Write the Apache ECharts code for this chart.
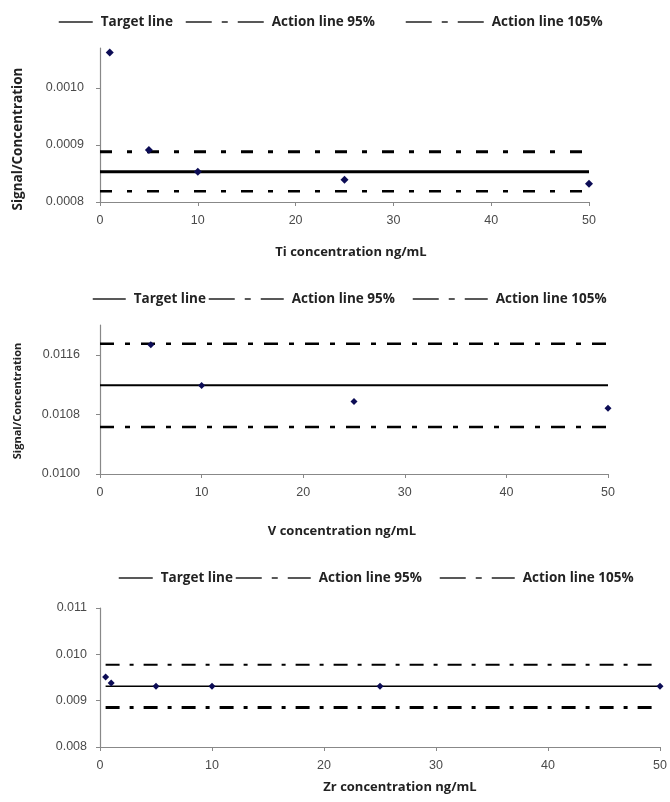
<!DOCTYPE html>
<html>
<head>
<meta charset="utf-8">
<script src="https://cdn.jsdelivr.net/npm/echarts@6/dist/echarts.min.js"></script>
<style>
  html, body { margin: 0; padding: 0; background: #fff; }
  #chart { width: 670px; height: 802px; }
</style>
</head>
<body>
<div id="chart"></div>
<script>
// ---- Data ----
const legendNames = ['Target line', 'Action line 95%', 'Action line 105%'];

const tiConc = [1, 5, 10, 25, 50];
const tiRatio = [0.001062, 0.000891, 0.000853, 0.000839, 0.000832];
const tiLevels = [0.000853, 0.000819, 0.000888]; // target, 95%, 105%
const tiLineX = [0, 50];
const tiTicks = [0.0008, 0.0009, 0.0010];

const vConc = [5, 10, 25, 50];
const vRatio = [0.011734, 0.011187, 0.010972, 0.010883];
const vLevels = [0.01119, 0.01063, 0.01175];
const vLineX = [0, 50];
const vTicks = [0.0100, 0.0108, 0.0116];

const zrConc = [0.5, 1, 5, 10, 25, 50];
const zrRatio = [0.00951, 0.00938, 0.00931, 0.00931, 0.00931, 0.00931];
const zrLevels = [0.00931, 0.00885, 0.009775];
const zrLineX = [0.5, 50];
const zrTicks = [0.008, 0.009, 0.010, 0.011];

const xTitles = ['Ti concentration ng/mL', 'V concentration ng/mL', 'Zr concentration ng/mL'];
const yTitle = 'Signal/Concentration';

// ---- Styling helpers ----
const BOLD = '"Open Sans", "DejaVu Sans", sans-serif';
const AXFONT = '"Liberation Sans", Arial, sans-serif';
const AXCOLOR = '#888888';
const LBLCOLOR = '#4a4a4a';
const MARK = '#0c0c55';

const grids = [
  { left: 100, width: 489, top: 48, height: 154 },
  { left: 100, width: 508, top: 325, height: 149 },
  { left: 100, width: 560, top: 608, height: 139 }
];

function xAxis(i, nameGap, pad) {
  return {
    type: 'value', gridIndex: i, min: 0, max: 50, interval: 10,
    name: xTitles[i], nameLocation: 'middle', nameGap: nameGap,
    nameTextStyle: { fontFamily: BOLD, fontWeight: 'bold', fontSize: 13, color: '#222', padding: pad },
    axisLine: { show: true, onZero: false, lineStyle: { color: AXCOLOR, width: 1.2 } },
    axisTick: { show: true, length: 4, lineStyle: { color: AXCOLOR } },
    axisLabel: { fontFamily: AXFONT, fontSize: 12.5, color: LBLCOLOR, margin: 12 },
    splitLine: { show: false }
  };
}
function yAxis(i, min, max, ticks, digits, margin) {
  return {
    type: 'value', gridIndex: i, min: min, max: max,
    axisLine: { show: true, onZero: false, lineStyle: { color: AXCOLOR, width: 1.2 } },
    axisTick: { show: true, length: 4, lineStyle: { color: AXCOLOR }, customValues: ticks },
    axisLabel: { fontFamily: AXFONT, fontSize: 12.5, color: LBLCOLOR, margin: margin,
      customValues: ticks, formatter: v => v.toFixed(digits) },
    splitLine: { show: false }
  };
}
function hline(i, name, xs, y, width, dash) {
  return {
    type: 'line', name: name, xAxisIndex: i, yAxisIndex: i,
    data: xs.map(x => [x, y]), symbol: 'none', silent: true, z: 2,
    color: '#000',
    lineStyle: { color: '#000', width: width, type: dash || 'solid' }
  };
}
function pts(i, xs, ys, size) {
  return {
    type: 'scatter', name: 'points', xAxisIndex: i, yAxisIndex: i,
    data: xs.map((x, k) => [x, ys[k]]), symbol: 'diamond', symbolSize: size,
    itemStyle: { color: MARK, opacity: 1 }, z: 5
  };
}
function legend(name, left, cy, w, dashed) {
  return {
    data: [name], left: left, top: cy - 8, itemHeight: 4, itemWidth: w,
    selectedMode: false, padding: 0,
    itemStyle: { opacity: 0 },
    lineStyle: { color: '#222', width: 1.5, type: dashed ? [26, 10, 6, 10] : 'solid' },
    textStyle: { fontFamily: BOLD, fontWeight: 'bold', fontSize: 13.5, color: '#222', padding: [0, 0, 0, 3] }
  };
}

const option = {
  animation: false,
  backgroundColor: '#fff',
  grid: grids,
  xAxis: [ xAxis(0, 44, [0, 0, 0, 13]), xAxis(1, 51, [0, 24, 0, 0]), xAxis(2, 34, [0, 0, 0, 40]) ],
  yAxis: [
    yAxis(0, 0.0008, 0.00107, tiTicks, 4, 16),
    yAxis(1, 0.0100, 0.0120, vTicks, 4, 20),
    yAxis(2, 0.008, 0.011, zrTicks, 3, 13)
  ],
  legend: [
    legend(legendNames[0], 58, 23, 34, false),
    legend(legendNames[1], 185, 23, 78, true),
    legend(legendNames[2], 405, 23, 78, true),
    legend(legendNames[0], 92, 300, 33, false),
    legend(legendNames[1], 208, 300, 75, true),
    legend(legendNames[2], 412, 300, 75, true),
    legend(legendNames[0], 118, 579, 34, false),
    legend(legendNames[1], 235, 579, 75, true),
    legend(legendNames[2], 439, 579, 75, true)
  ],
  graphic: [
    { type: 'text', x: 18, y: 139, rotation: Math.PI / 2,
      style: { text: yTitle, align: 'center', verticalAlign: 'middle', font: 'bold 13.5px "Open Sans", sans-serif', fill: '#222' } },
    { type: 'text', x: 18, y: 401, rotation: Math.PI / 2,
      style: { text: yTitle, align: 'center', verticalAlign: 'middle', font: 'bold 11px "Open Sans", sans-serif', fill: '#222' } }
  ],
  series: [
    hline(0, legendNames[0], tiLineX, tiLevels[0], 3),
    hline(0, legendNames[1], tiLineX, tiLevels[1], 2.5, [12, 15, 5, 15]),
    hline(0, legendNames[2], tiLineX, tiLevels[2], 3, [12, 15, 5, 15]),
    pts(0, tiConc, tiRatio, 8),

    hline(1, legendNames[0], vLineX, vLevels[0], 2),
    hline(1, legendNames[1], vLineX, vLevels[1], 2.5, [14, 11, 5, 11]),
    hline(1, legendNames[2], vLineX, vLevels[2], 2.5, [14, 11, 5, 11]),
    pts(1, vConc, vRatio, 7),

    hline(2, legendNames[0], zrLineX, zrLevels[0], 1.5),
    hline(2, legendNames[1], zrLineX, zrLevels[1], 3, [14, 10, 4, 10]),
    hline(2, legendNames[2], zrLineX, zrLevels[2], 2, [14, 10, 4, 10]),
    pts(2, zrConc, zrRatio, 7)
  ]
};

const chart = echarts.init(document.getElementById('chart'), null, { renderer: 'canvas' });
chart.setOption(option);
</script>
</body>
</html>
